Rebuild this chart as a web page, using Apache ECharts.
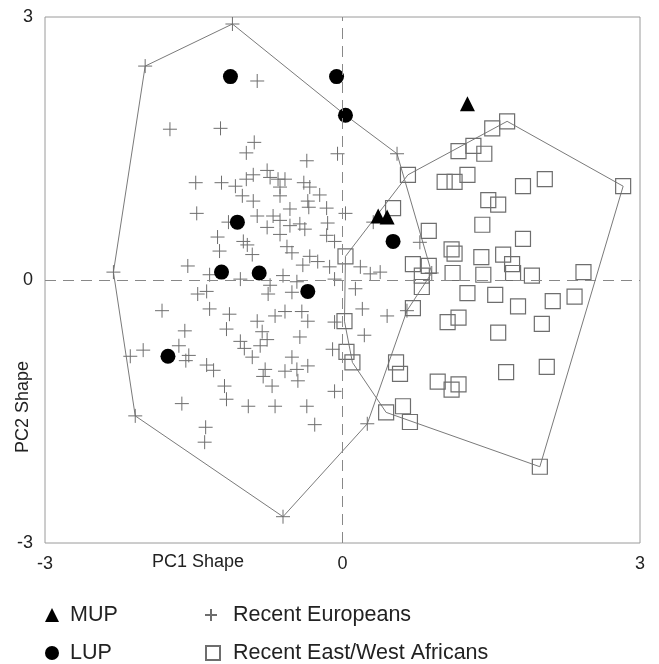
<!DOCTYPE html>
<html>
<head>
<meta charset="utf-8">
<script src="https://cdn.jsdelivr.net/npm/echarts@6/dist/echarts.min.js"></script>
<style>
  html, body { margin: 0; padding: 0; background: #fff; }
  #chart { width: 659px; height: 664px; }
</style>
</head>
<body>
<div id="chart"></div>
<script>
// PC1 / PC2 shape scores
const europeans = [
  [-1.11, 2.92], [-1.99, 2.44], [-0.86, 2.27], [-1.74, 1.72], [-1.23, 1.73],
  [-0.89, 1.57], [-0.97, 1.45], [-0.05, 1.44], [-0.36, 1.36], [-0.76, 1.25],
  [-1.48, 1.11], [-1.22, 1.11], [-1.08, 1.07], [-0.97, 1.15], [-0.90, 1.20],
  [-0.73, 1.17], [-0.65, 1.15], [-0.58, 1.15], [-0.39, 1.11], [-0.33, 1.06],
  [-0.23, 0.97], [-1.01, 0.96], [-0.90, 0.90], [-0.63, 0.96], [-0.35, 0.90],
  [-0.34, 0.83], [-0.16, 0.82], [0.03, 0.76], [-0.53, 0.81], [-1.47, 0.76],
  [-0.70, 0.73], [-0.86, 0.73], [-0.63, 0.68], [-0.43, 0.64], [-0.53, 0.62],
  [-0.38, 0.58], [-0.76, 0.60], [-0.15, 0.65], [-0.63, 0.52], [-0.16, 0.51],
  [-0.08, 0.44], [-1.00, 0.44], [-1.15, 0.66], [-1.26, 0.49], [-1.24, 0.33],
  [-0.96, 0.40], [-0.91, 0.29], [-0.56, 0.38], [-0.51, 0.31], [-0.33, 0.27],
  [-0.40, 0.17], [-0.25, 0.21], [-0.13, 0.15], [-1.03, 0.01], [-0.60, 0.05],
  [-0.46, -0.02], [-0.08, 0.01], [-0.73, -0.06], [-1.56, 0.16], [-1.34, 0.06],
  [-2.31, 0.09], [0.31, 0.66], [0.78, 0.43], [0.18, 0.15], [0.28, 0.07],
  [0.38, 0.09], [0.90, 0.08], [0.55, 1.44], [0.03, 1.88], [-0.63, 1.06],
  [-1.46, -0.16], [-1.37, -0.13], [-1.82, -0.35], [-1.34, -0.33], [-1.14, -0.39],
  [-1.59, -0.58], [-1.17, -0.56], [-2.01, -0.80], [-2.14, -0.87], [-1.65, -0.75],
  [-1.55, -0.86], [-1.58, -0.92], [-1.37, -0.97], [-1.30, -1.03], [-1.19, -1.21],
  [-1.17, -1.36], [-1.62, -1.41], [-2.09, -1.55], [-1.38, -1.68], [-1.39, -1.85],
  [-0.95, -1.44], [-0.68, -1.44], [-0.36, -1.44], [-0.28, -1.65], [-0.60, -2.70],
  [-0.75, -0.16], [-0.51, -0.14], [-0.86, -0.47], [-0.68, -0.41], [-0.58, -0.36],
  [-0.41, -0.36], [-0.35, -0.47], [-0.81, -0.59], [-0.83, -0.75], [-0.76, -0.68],
  [-0.43, -0.65], [-1.03, -0.70], [-0.99, -0.78], [-0.91, -0.88], [-0.10, -0.79],
  [-0.51, -0.88], [-0.78, -1.02], [-0.80, -1.10], [-0.58, -1.04], [-0.46, -1.02],
  [-0.35, -0.98], [-0.45, -1.15], [-0.71, -1.21], [-0.08, -1.27], [0.13, -0.10],
  [0.20, -0.33], [0.45, -0.41], [0.65, -0.35], [0.22, -0.63], [0.25, -1.64],
  [-0.08, -0.48]
];

const africans = [
  [1.66, 1.81], [1.51, 1.73], [1.32, 1.53], [1.17, 1.47], [1.43, 1.44],
  [0.66, 1.20], [1.03, 1.12], [1.13, 1.12], [1.26, 1.20], [1.82, 1.07],
  [2.04, 1.15], [2.83, 1.07], [1.47, 0.91], [1.57, 0.86], [0.51, 0.82],
  [1.41, 0.63], [0.87, 0.56], [1.82, 0.47], [1.10, 0.35], [1.13, 0.30],
  [1.40, 0.26], [1.62, 0.29], [0.03, 0.27], [0.71, 0.18], [0.87, 0.16],
  [1.71, 0.18], [1.11, 0.08], [1.42, 0.06], [1.72, 0.08], [1.91, 0.05],
  [2.43, 0.09], [0.80, 0.05], [0.80, -0.08], [1.26, -0.15], [1.54, -0.17],
  [1.77, -0.30], [2.12, -0.24], [2.34, -0.19], [0.71, -0.32], [1.06, -0.48],
  [1.17, -0.43], [1.57, -0.60], [2.01, -0.50], [0.02, -0.47], [0.04, -0.82],
  [0.10, -0.94], [0.54, -0.94], [0.58, -1.07], [0.96, -1.16], [1.10, -1.25],
  [1.17, -1.19], [1.65, -1.05], [2.06, -0.99], [0.44, -1.51], [0.61, -1.44],
  [0.68, -1.62], [1.99, -2.13]
];

const lup = [
  [-1.13, 2.32], [-0.06, 2.32], [0.03, 1.88], [-1.06, 0.66], [-1.22, 0.09],
  [-0.84, 0.08], [-0.35, -0.13], [-1.76, -0.87], [0.51, 0.44]
];

const mup = [
  [1.26, 2.01], [0.36, 0.73], [0.45, 0.72]
];

// Outline polygons around each recent sample
const europeanHull = [
  [-2.31, 0.09], [-1.99, 2.44], [-1.11, 2.92], [0.03, 1.88], [0.55, 1.44],
  [0.90, 0.08], [0.65, -0.35], [0.25, -1.64], [-0.60, -2.70], [-2.09, -1.55],
  [-2.31, 0.09]
];

const africanHull = [
  [0.03, 0.27], [0.66, 1.20], [1.66, 1.81], [2.83, 1.07], [1.99, -2.13],
  [0.44, -1.51], [0.10, -0.94], [0.02, -0.47], [0.03, 0.27]
];

const axisTicks = [-3, 0, 3];

const FONT = '"Liberation Sans", Arial, Helvetica, sans-serif';
const crossPath = 'path://M0,6L12,6M6,0L6,12';

const chart = echarts.init(document.getElementById('chart'), null, { renderer: 'canvas' });

const hullStyle = { color: '#7a7a7a', width: 1 };

// one legend block per entry, laid out as a 2x2 key under the plot
function legendEntry(name, left, top, size, textGap) {
  return {
    data: [name], left: left, top: top,
    itemWidth: size, itemHeight: size,
    textStyle: { fontFamily: FONT, fontSize: 21.5, color: '#222', padding: [0, 0, 0, textGap] }
  };
}

chart.setOption({
  animation: false,
  backgroundColor: '#fff',
  grid: {
    left: 45, right: 19, top: 17, bottom: 121,
    show: true, borderColor: '#9a9a9a', borderWidth: 1, backgroundColor: 'transparent'
  },
  xAxis: {
    type: 'value', min: axisTicks[0], max: axisTicks[2], interval: 3,
    axisLine: { show: false }, axisTick: { show: false }, splitLine: { show: false },
    axisLabel: { fontFamily: FONT, fontSize: 18, color: '#222', margin: 12 }
  },
  yAxis: {
    type: 'value', min: axisTicks[0], max: axisTicks[2], interval: 3,
    axisLine: { show: false }, axisTick: { show: false }, splitLine: { show: false },
    axisLabel: { fontFamily: FONT, fontSize: 18, color: '#222', margin: 12 }
  },
  legend: [
    legendEntry('MUP', 40, 599, 14, 6),
    legendEntry('LUP', 40, 637, 14, 6),
    legendEntry('Recent Europeans', 199, 599, 12, 11),
    legendEntry('Recent East/West Africans', 200, 637, 14, 8)
  ],
  graphic: [
    {
      type: 'text', left: 152, top: 553,
      style: { text: 'PC1 Shape', font: '18px ' + FONT, fill: '#222' }
    },
    {
      type: 'text', x: 14, y: 453, rotation: Math.PI / 2,
      style: { text: 'PC2 Shape', font: '18px ' + FONT, fill: '#222' }
    }
  ],
  series: [
    {
      name: 'europeanHull', type: 'line', data: europeanHull, symbol: 'none',
      lineStyle: hullStyle, silent: true, z: 1,
      markLine: {
        silent: true, symbol: ['none', 'none'], label: { show: false },
        lineStyle: { color: '#888', width: 1, type: [11, 7] },
        data: [{ xAxis: 0 }, { yAxis: 0 }]
      }
    },
    {
      name: 'africanHull', type: 'line', data: africanHull, symbol: 'none',
      lineStyle: hullStyle, silent: true, z: 1
    },
    {
      name: 'Recent Europeans', type: 'scatter', data: europeans,
      symbol: crossPath, symbolSize: 14, z: 2,
      itemStyle: { color: 'transparent', borderColor: '#6e6e6e', borderWidth: 1, opacity: 1 }
    },
    {
      name: 'Recent East/West Africans', type: 'scatter', data: africans,
      symbol: 'rect', symbolSize: 15, z: 2,
      itemStyle: { color: 'transparent', borderColor: '#6e6e6e', borderWidth: 1.2, opacity: 1 }
    },
    {
      name: 'LUP', type: 'scatter', data: lup,
      symbol: 'circle', symbolSize: 15, z: 3,
      itemStyle: { color: '#000', opacity: 1 }
    },
    {
      name: 'MUP', type: 'scatter', data: mup,
      symbol: 'triangle', symbolSize: 15, z: 3,
      itemStyle: { color: '#000', opacity: 1 }
    }
  ]
});
</script>
</body>
</html>
